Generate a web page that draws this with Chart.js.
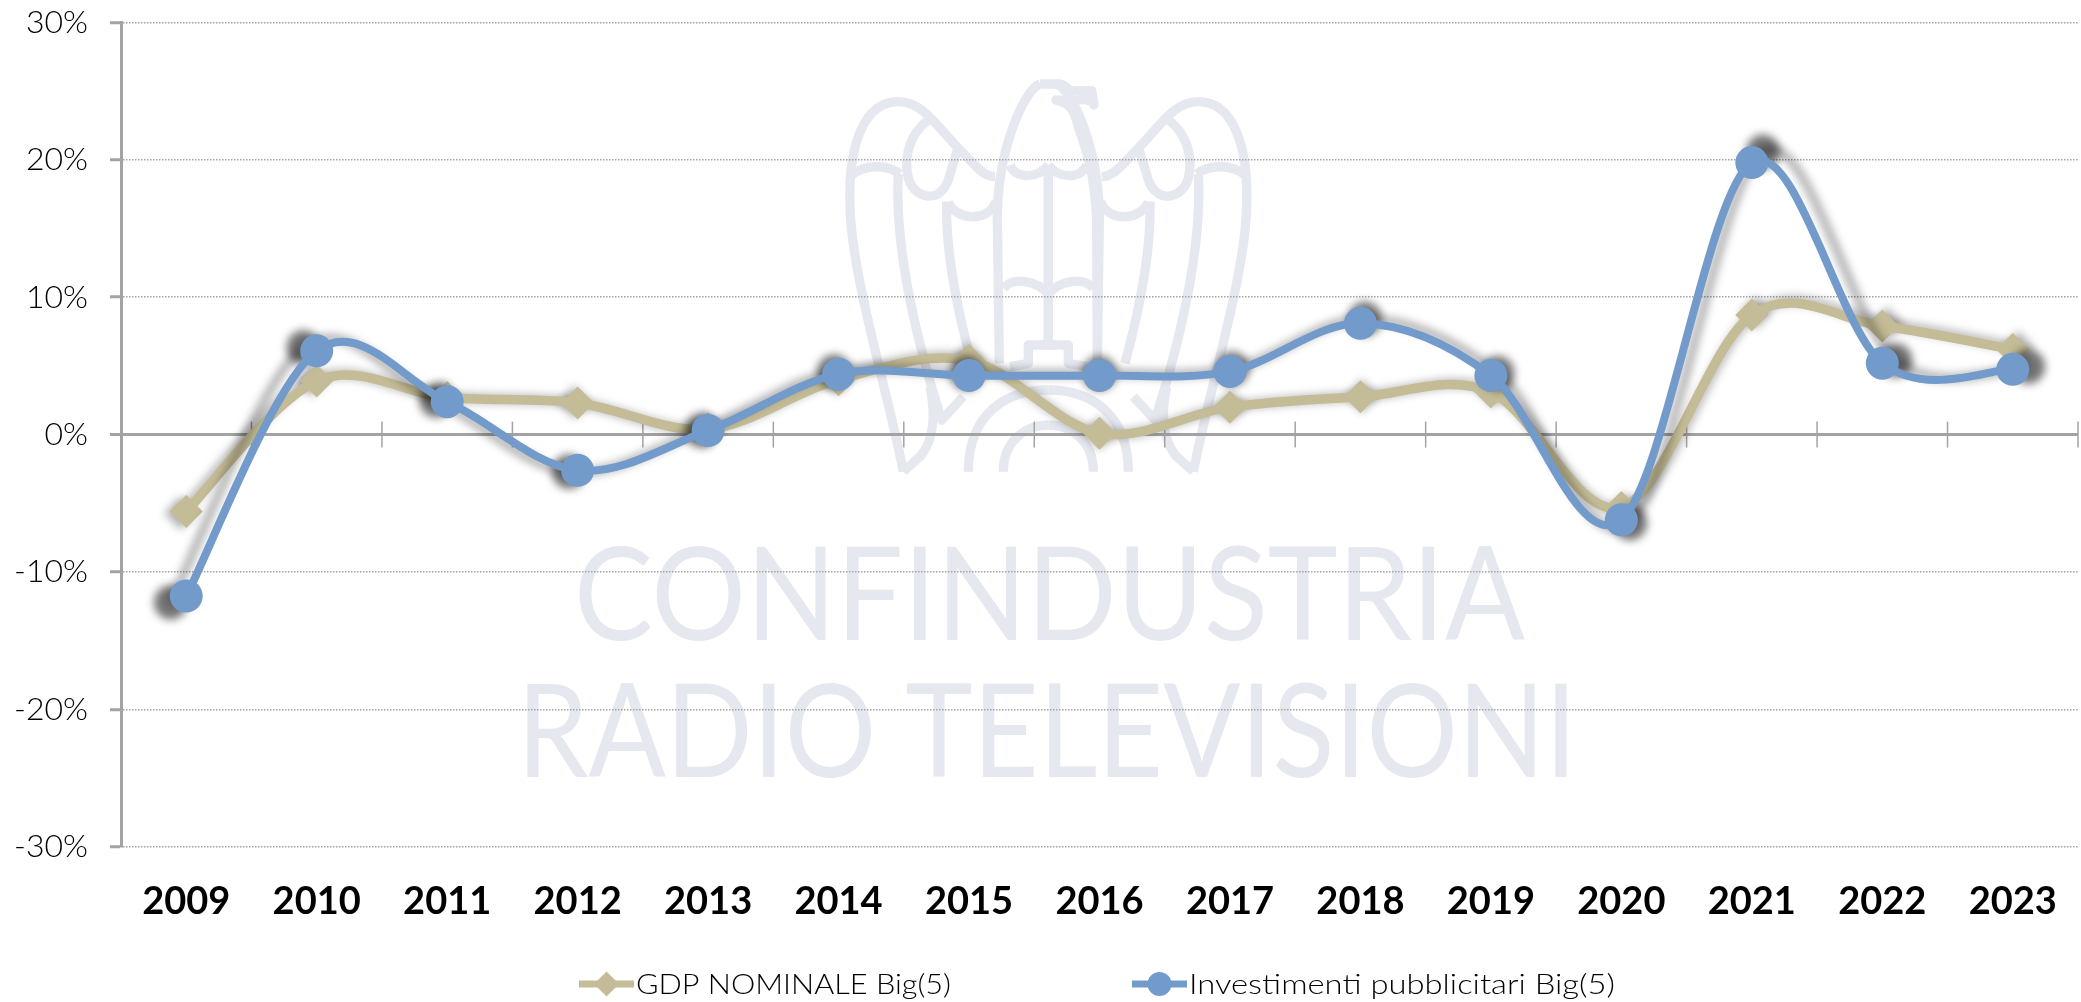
<!DOCTYPE html>
<html>
<head>
<meta charset="utf-8">
<title>GDP e investimenti pubblicitari Big(5)</title>
<script src="https://cdn.jsdelivr.net/npm/chart.js@4"></script>
<style>
    html, body { margin: 0; padding: 0; background: #fff; }
    canvas { display: block; }
</style>
</head>
<body>
<canvas id="growthChart" width="2081" height="1002"></canvas>
<script>
const years = ["2009", "2010", "2011", "2012", "2013", "2014", "2015", "2016", "2017", "2018", "2019", "2020", "2021", "2022", "2023"];
const gdpValues = [-5.6, 3.9, 2.7, 2.3, 0.4, 4.0, 5.4, 0.1, 2.0, 2.75, 3.1, -5.3, 8.7, 7.9, 6.2];
const adValues = [-11.75, 6.1, 2.4, -2.6, 0.3, 4.4, 4.3, 4.3, 4.6, 8.1, 4.3, -6.2, 19.8, 5.2, 4.75];

const gdpName = "GDP NOMINALE Big(5)";
const adName = "Investimenti pubblicitari Big(5)";
const gdpColor = "#c4bc96";
const adColor = "#729aca";
const axisGray = "#a3a3a3";
const markColor = "#e6e8f0";
const fontName = '"Century Gothic", Lato, sans-serif';

// eagle outline, traced in a 460x420 box, left half only (mirrored around x=685/3)
const halfEagle = [
    "M250 1205 C200 950 90 600 90 400 C85 230 130 95 235 95 C310 95 350 170 430 250 C470 290 490 320 525 320",
    "M95 315 C130 285 200 280 240 312",
    "M325 150 C270 190 250 260 265 325 C285 390 360 400 385 330 L412 240",
    "M385 395 C400 445 500 465 528 395",
    "M235 312 C225 500 270 750 365 1050 L430 980",
    "M380 395 C375 560 420 750 455 880",
    "M660 42 C610 60 530 250 532 450 L538 880",
    "M570 285 C585 325 650 330 685 285",
    "M550 655 C580 620 650 630 685 672",
    "M685 300 L685 825 L625 825 L625 880 L570 890",
    "M250 1205 L305 1155 C345 1100 345 1020 330 950",
    "M445 1205 C445 1030 560 960 685 960",
    "M550 1205 C550 1110 620 1065 685 1065"
];
const eagleHead = "M660 42 L720 42 C740 45 745 60 750 62 L815 62 L822 105 C815 85 780 88 760 92 L708 90 C745 100 760 110 775 170 C800 240 825 320 830 450 L832 880";

function drawEagle(ctx) {
    ctx.save();
    ctx.translate(820, 70);
    ctx.scale(1 / 3, 1 / 3);
    ctx.strokeStyle = markColor;
    ctx.lineWidth = 28;
    ctx.lineJoin = "round";
    ctx.stroke(new Path2D(eagleHead));
    for (const d of halfEagle) {
        ctx.stroke(new Path2D(d));
        ctx.save();
        ctx.translate(1370, 0);
        ctx.scale(-1, 1);
        ctx.stroke(new Path2D(d));
        ctx.restore();
    }
    ctx.restore();
}

function fitText(ctx, text, left, right, baseline) {
    const w = ctx.measureText(text).width;
    ctx.save();
    ctx.translate(left, baseline);
    ctx.scale((right - left) / w, 1);
    ctx.fillText(text, 0, 0);
    ctx.restore();
}

const watermark = {
    id: "watermark",
    beforeDraw(chart) {
        const ctx = chart.ctx;
        drawEagle(ctx);
        ctx.save();
        ctx.fillStyle = markColor;
        ctx.textAlign = "left";
        ctx.font = "400 129px " + fontName;
        fitText(ctx, "CONFINDUSTRIA", 574, 1525, 640);
        fitText(ctx, "RADIO TELEVISIONI", 517, 1577, 777);
        ctx.restore();
    }
};

// Excel style smooth line: control points from the two neighbours only
const excelSmooth = {
    id: "excelSmooth",
    afterDatasetsUpdate(chart) {
        chart.getSortedVisibleDatasetMetas().forEach((meta) => {
            meta.dataset.updateControlPoints(chart.chartArea, "x");
            const pts = meta.data;
            pts.forEach((p, i) => {
                const prev = pts[i - 1] || p;
                const next = pts[i + 1] || p;
                const dx = (next.x - prev.x) / 6;
                const dy = (next.y - prev.y) / 6;
                p.cp1x = p.x - dx;
                p.cp1y = p.y - dy;
                p.cp2x = p.x + dx;
                p.cp2y = p.y + dy;
            });
        });
    }
};

// tick marks across the zero line, between the categories
const zeroTicks = {
    id: "zeroTicks",
    beforeDatasetsDraw(chart) {
        const ctx = chart.ctx;
        const x = chart.scales.x;
        const y0 = chart.scales.y.getPixelForValue(0);
        const step = x.getPixelForValue(1) - x.getPixelForValue(0);
        ctx.save();
        ctx.strokeStyle = axisGray;
        ctx.lineWidth = 1.5;
        for (let i = 0; i <= years.length; i++) {
            const px = x.getPixelForValue(0) + (i - 0.5) * step;
            ctx.beginPath();
            ctx.moveTo(px, y0 - 13);
            ctx.lineTo(px, y0 + 13);
            ctx.stroke();
        }
        ctx.restore();
    }
};

// soft shadow that spreads out from the middle of the chart
const spreadShadow = {
    id: "spreadShadow",
    beforeDatasetDraw(chart, args) {
        const ctx = chart.ctx;
        const meta = args.meta;
        const area = chart.chartArea;
        const cx = (area.left + area.right) / 2;
        const cy = chart.scales.y.getPixelForValue(0);
        const isAd = args.index === 1;
        ctx.save();
        ctx.filter = "blur(4px)";
        ctx.translate(cx, cy);
        if (isAd) ctx.scale(1.017, 1.04);
        else ctx.scale(1.006, 1.02);
        ctx.translate(-cx, -cy);
        ctx.strokeStyle = isAd ? "rgba(0,0,0,0.32)" : "rgba(0,0,0,0.28)";
        ctx.fillStyle = isAd ? "rgba(0,0,0,0.55)" : "rgba(0,0,0,0.3)";
        ctx.lineWidth = meta.dataset.options.borderWidth;
        ctx.beginPath();
        meta.dataset.path(ctx);
        ctx.stroke();
        for (const p of meta.data) {
            Chart.helpers.drawPoint(ctx, {
                pointStyle: p.options.pointStyle,
                radius: p.options.radius,
                rotation: 0,
                borderWidth: 0
            }, p.x, p.y);
        }
        ctx.restore();
    }
};

// legend with a piece of line behind the marker, spaced as in the original
const lineLegend = {
    id: "lineLegend",
    afterDraw(chart) {
        const ctx = chart.ctx;
        const items = [
            { set: chart.data.datasets[0], left: 579, right: 634, textX: 636, textEnd: 951, radius: 12.5 },
            { set: chart.data.datasets[1], left: 1132, right: 1187, textX: 1189, textEnd: 1615, radius: 12 }
        ];
        ctx.save();
        for (const it of items) {
            ctx.strokeStyle = it.set.borderColor;
            ctx.fillStyle = it.set.borderColor;
            ctx.lineWidth = 7;
            ctx.beginPath();
            ctx.moveTo(it.left, 984);
            ctx.lineTo(it.right, 984);
            ctx.stroke();
            Chart.helpers.drawPoint(ctx, {
                pointStyle: it.set.pointStyle,
                radius: it.radius,
                rotation: 0,
                borderWidth: 0
            }, (it.left + it.right) / 2, 984);
            ctx.fillStyle = "#000";
            ctx.font = "300 27px " + fontName;
            ctx.textBaseline = "middle";
            ctx.textAlign = "left";
            fitText(ctx, it.set.label, it.textX, it.textEnd, 985);
        }
        ctx.restore();
    }
};

const noPadding = () => ({ left: 0, right: 0, top: 0, bottom: 0 });

new Chart(document.getElementById("growthChart"), {
    type: "line",
    data: {
        labels: years,
        datasets: [
            {
                label: gdpName,
                data: gdpValues,
                order: 2,
                borderColor: gdpColor,
                backgroundColor: gdpColor,
                borderWidth: 9.5,
                tension: 0.4,
                clip: false,
                pointStyle: "rectRot",
                pointRadius: 16.5,
                pointBackgroundColor: gdpColor,
                pointBorderWidth: 0
            },
            {
                label: adName,
                data: adValues,
                order: 1,
                borderColor: adColor,
                backgroundColor: adColor,
                borderWidth: 8,
                tension: 0.4,
                clip: false,
                pointStyle: "circle",
                pointRadius: 16.5,
                pointBackgroundColor: adColor,
                pointBorderWidth: 0
            }
        ]
    },
    options: {
        responsive: false,
        animation: false,
        layout: { autoPadding: false, padding: { top: 22.5, right: 3, left: 0, bottom: 0 } },
        plugins: {
            legend: { display: false },
            tooltip: { enabled: false }
        },
        scales: {
            x: {
                offset: true,
                grid: { display: false },
                border: { display: false },
                ticks: {
                    color: "#000",
                    padding: 24,
                    maxRotation: 0,
                    autoSkip: false,
                    font: { family: fontName, size: 38, weight: "bold" }
                },
                afterFit(scale) {
                    scale.height = 155.3;
                    scale.getPadding = noPadding;
                }
            },
            y: {
                min: -30,
                max: 30,
                grid: {
                    color: axisGray,
                    lineWidth: (c) => (c.tick && c.tick.value === 0 ? 3 : 1.5),
                    tickColor: axisGray,
                    tickWidth: 3,
                    tickLength: 11
                },
                border: {
                    color: axisGray,
                    width: 3,
                    dash: (c) => (c.tick && c.tick.value === 0 ? [] : [1.5, 1.5])
                },
                ticks: {
                    stepSize: 10,
                    color: "#000",
                    padding: 22,
                    font: { family: fontName, size: 32, weight: 300 },
                    callback: (v) => v + "%"
                },
                afterFit(scale) {
                    scale.width = 121;
                    scale.getPadding = noPadding;
                }
            }
        }
    },
    plugins: [watermark, excelSmooth, zeroTicks, spreadShadow, lineLegend]
});
</script>
</body>
</html>
